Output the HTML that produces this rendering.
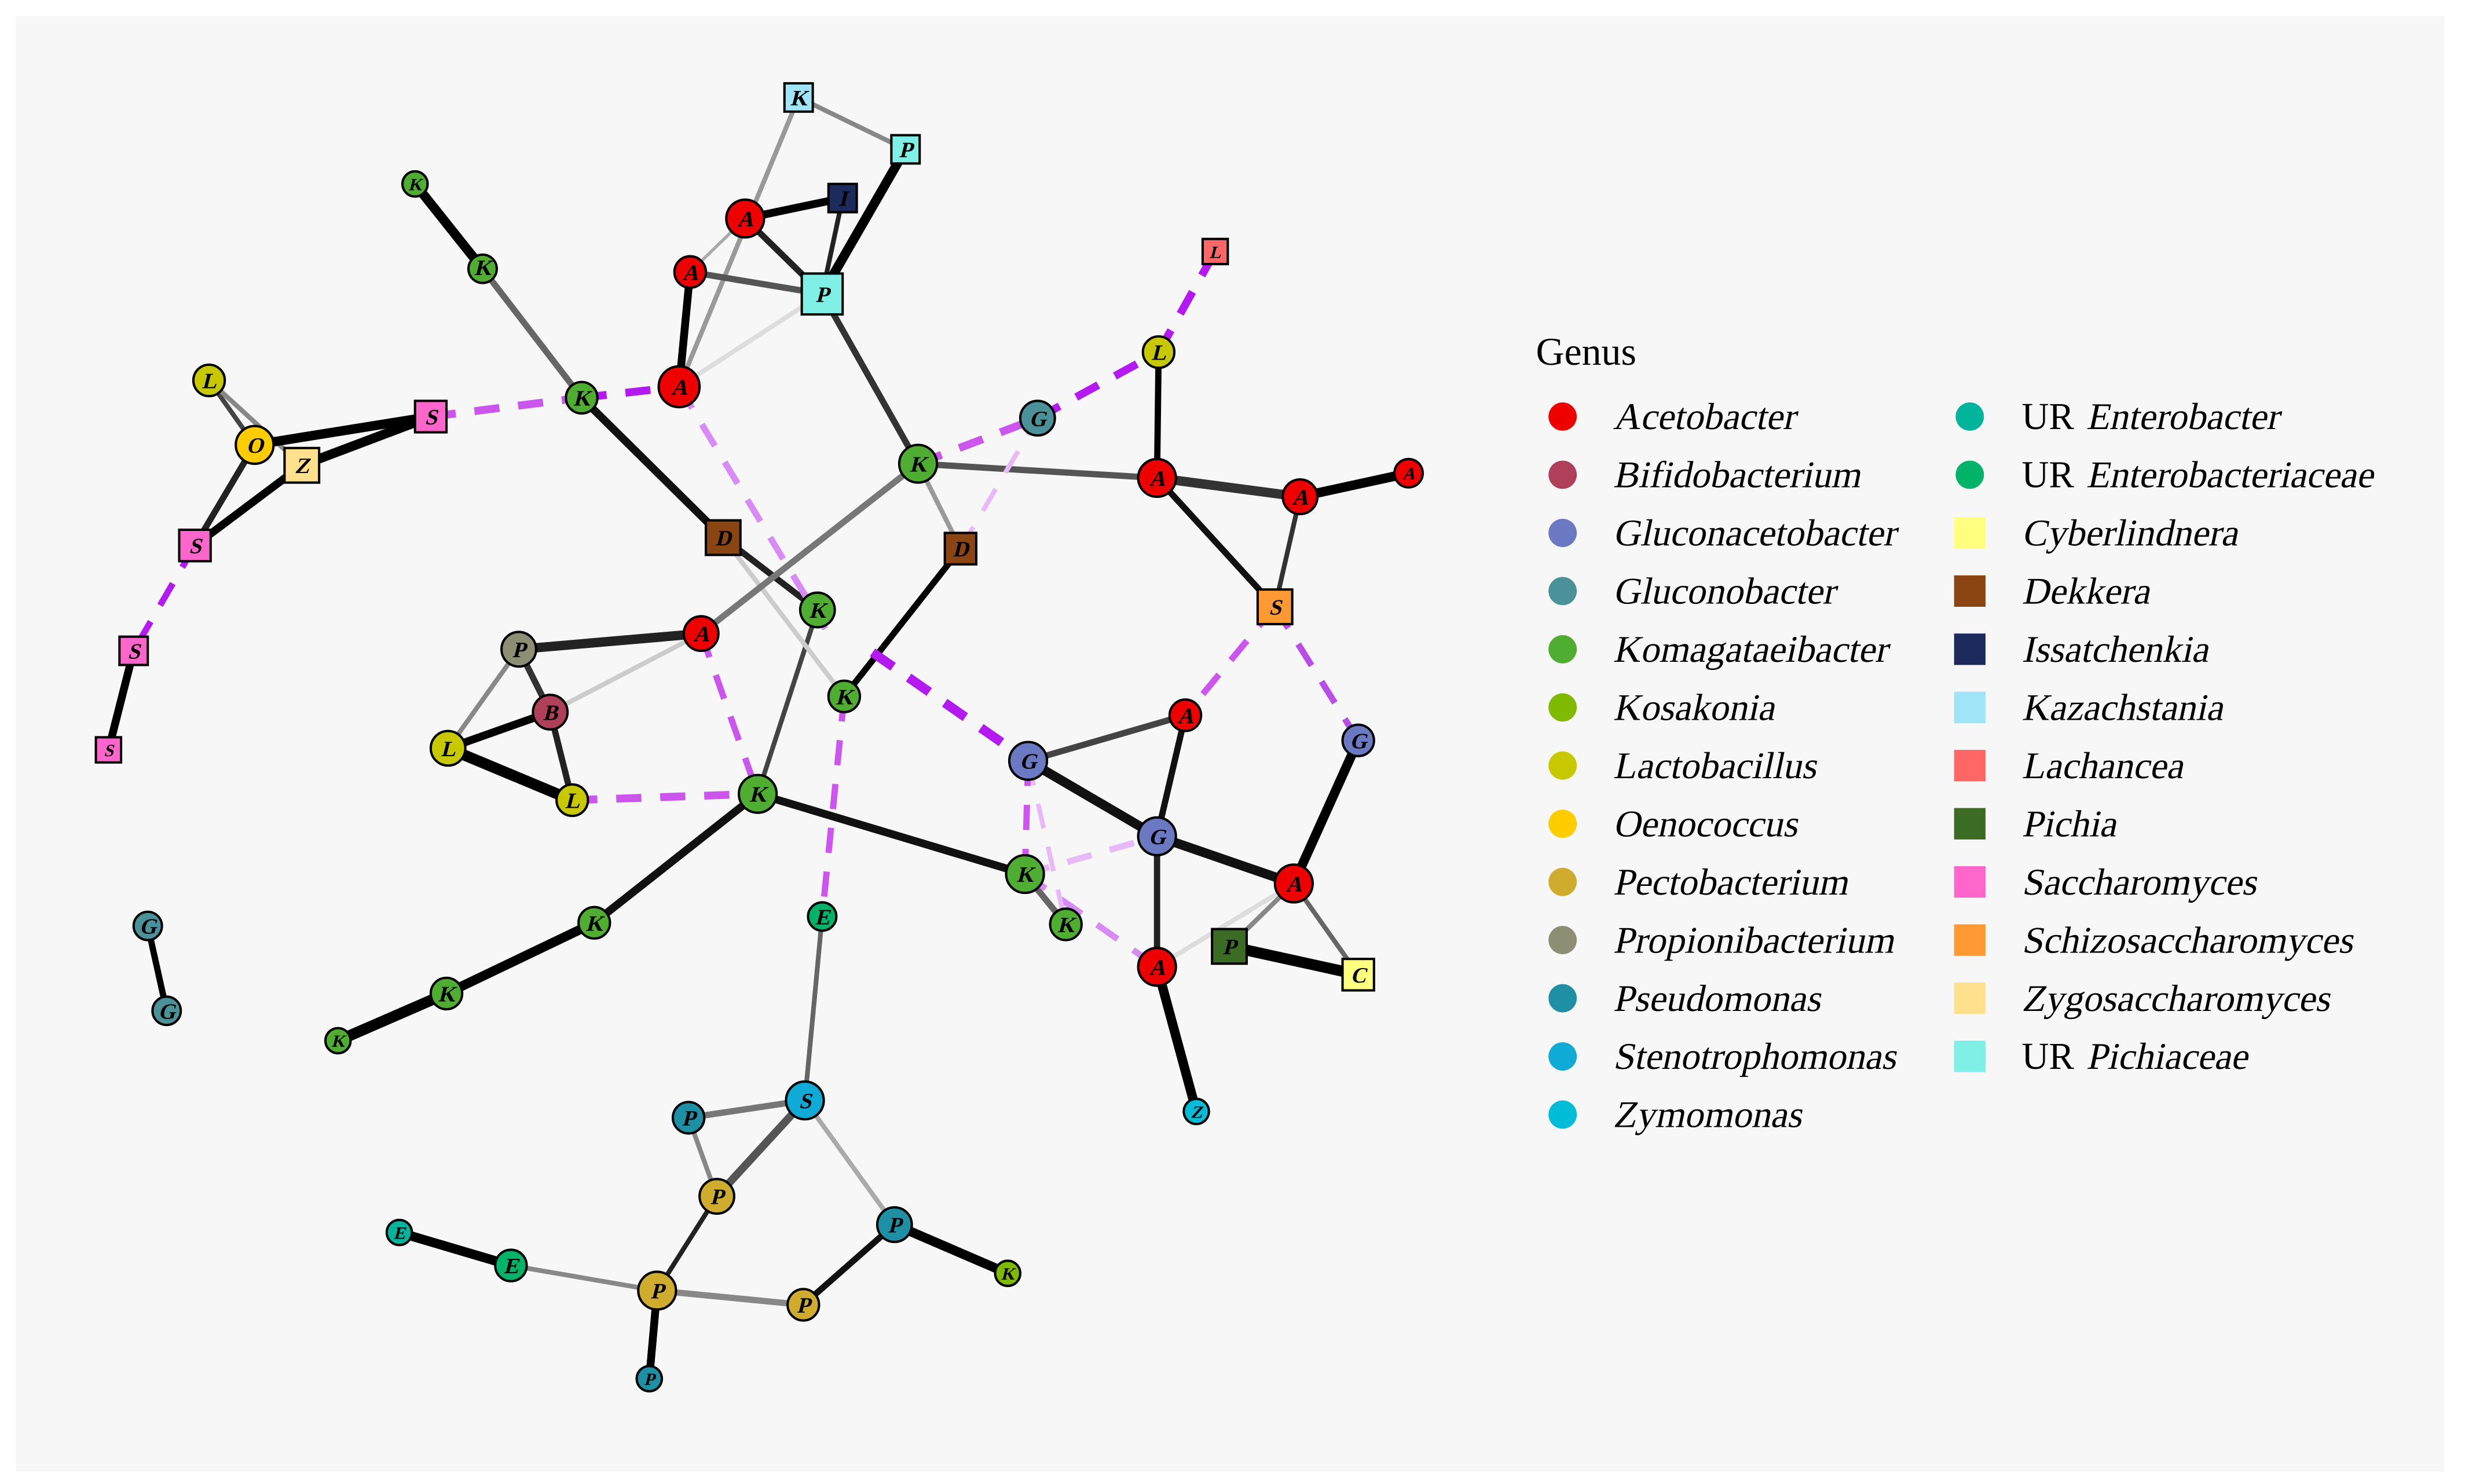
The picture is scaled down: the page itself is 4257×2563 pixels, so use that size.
<!DOCTYPE html>
<html><head><meta charset="utf-8"><style>
html,body{margin:0;padding:0;background:#fff;}
svg{display:block;}
</style></head><body>
<svg width="4257" height="2563" viewBox="0 0 1568 944" preserveAspectRatio="none" xmlns="http://www.w3.org/2000/svg">
<rect x="0" y="0" width="1568" height="944" fill="#fff"/>
<rect x="10" y="10" width="1545" height="926" fill="#f7f7f7"/>
<g stroke-linecap="butt" fill="none">
<line x1="264" y1="117" x2="307" y2="171" stroke="#000" stroke-width="6"/>
<line x1="307" y1="171" x2="370" y2="253" stroke="#666" stroke-width="4"/>
<line x1="370" y1="253" x2="460" y2="342" stroke="#111" stroke-width="5"/>
<line x1="460" y1="342" x2="520" y2="388" stroke="#222" stroke-width="4"/>
<line x1="520" y1="388" x2="482" y2="505" stroke="#444" stroke-width="3"/>
<line x1="460" y1="342" x2="537" y2="443" stroke="#ccc" stroke-width="3"/>
<line x1="537" y1="443" x2="611" y2="349" stroke="#000" stroke-width="4"/>
<line x1="611" y1="349" x2="584" y2="295" stroke="#999" stroke-width="3"/>
<line x1="584" y1="295" x2="446" y2="403" stroke="#777" stroke-width="4"/>
<line x1="584" y1="295" x2="523" y2="187" stroke="#333" stroke-width="4"/>
<line x1="584" y1="295" x2="736" y2="304" stroke="#555" stroke-width="4"/>
<line x1="736" y1="304" x2="827" y2="316" stroke="#333" stroke-width="6"/>
<line x1="827" y1="316" x2="896" y2="301" stroke="#000" stroke-width="6"/>
<line x1="736" y1="304" x2="811" y2="386" stroke="#111" stroke-width="4"/>
<line x1="827" y1="316" x2="811" y2="386" stroke="#333" stroke-width="3"/>
<line x1="736" y1="304" x2="737" y2="224" stroke="#000" stroke-width="4"/>
<line x1="432" y1="246" x2="439" y2="173" stroke="#000" stroke-width="5"/>
<line x1="432" y1="246" x2="508" y2="62" stroke="#999" stroke-width="3"/>
<line x1="432" y1="246" x2="523" y2="187" stroke="#ddd" stroke-width="3"/>
<line x1="439" y1="173" x2="474" y2="139" stroke="#aaa" stroke-width="2"/>
<line x1="439" y1="173" x2="523" y2="187" stroke="#555" stroke-width="4"/>
<line x1="474" y1="139" x2="523" y2="187" stroke="#222" stroke-width="4"/>
<line x1="474" y1="139" x2="536" y2="126" stroke="#000" stroke-width="5"/>
<line x1="536" y1="126" x2="523" y2="187" stroke="#222" stroke-width="3"/>
<line x1="576" y1="95" x2="523" y2="187" stroke="#000" stroke-width="6"/>
<line x1="508" y1="62" x2="576" y2="95" stroke="#888" stroke-width="3"/>
<line x1="446" y1="403" x2="330" y2="413" stroke="#222" stroke-width="6"/>
<line x1="446" y1="403" x2="350" y2="453" stroke="#ccc" stroke-width="3"/>
<line x1="330" y1="413" x2="350" y2="453" stroke="#333" stroke-width="4"/>
<line x1="330" y1="413" x2="285" y2="476" stroke="#888" stroke-width="3"/>
<line x1="350" y1="453" x2="285" y2="476" stroke="#000" stroke-width="5"/>
<line x1="285" y1="476" x2="364" y2="509" stroke="#000" stroke-width="7"/>
<line x1="350" y1="453" x2="364" y2="509" stroke="#222" stroke-width="4"/>
<line x1="482" y1="505" x2="378" y2="587" stroke="#111" stroke-width="5"/>
<line x1="378" y1="587" x2="284" y2="632" stroke="#000" stroke-width="6"/>
<line x1="284" y1="632" x2="215" y2="662" stroke="#000" stroke-width="7"/>
<line x1="482" y1="505" x2="652" y2="556" stroke="#111" stroke-width="5"/>
<line x1="652" y1="556" x2="678" y2="588" stroke="#666" stroke-width="4"/>
<line x1="654" y1="484" x2="754" y2="455" stroke="#444" stroke-width="4"/>
<line x1="654" y1="484" x2="736" y2="532" stroke="#111" stroke-width="6"/>
<line x1="754" y1="455" x2="736" y2="532" stroke="#111" stroke-width="4"/>
<line x1="736" y1="532" x2="823" y2="562" stroke="#111" stroke-width="6"/>
<line x1="736" y1="532" x2="736" y2="615" stroke="#222" stroke-width="4"/>
<line x1="823" y1="562" x2="864" y2="471" stroke="#000" stroke-width="6"/>
<line x1="823" y1="562" x2="864" y2="620" stroke="#666" stroke-width="3"/>
<line x1="823" y1="562" x2="782" y2="602" stroke="#888" stroke-width="3"/>
<line x1="736" y1="615" x2="823" y2="562" stroke="#ddd" stroke-width="3"/>
<line x1="782" y1="602" x2="864" y2="620" stroke="#000" stroke-width="7"/>
<line x1="736" y1="615" x2="761" y2="707" stroke="#000" stroke-width="6"/>
<line x1="523" y1="583" x2="512" y2="700" stroke="#666" stroke-width="3"/>
<line x1="512" y1="700" x2="438" y2="711" stroke="#777" stroke-width="4"/>
<line x1="512" y1="700" x2="456" y2="761" stroke="#555" stroke-width="5"/>
<line x1="512" y1="700" x2="569" y2="779" stroke="#aaa" stroke-width="3"/>
<line x1="438" y1="711" x2="456" y2="761" stroke="#888" stroke-width="3"/>
<line x1="456" y1="761" x2="418" y2="821" stroke="#222" stroke-width="3"/>
<line x1="418" y1="821" x2="511" y2="830" stroke="#888" stroke-width="4"/>
<line x1="511" y1="830" x2="569" y2="779" stroke="#111" stroke-width="4"/>
<line x1="569" y1="779" x2="641" y2="810" stroke="#000" stroke-width="6"/>
<line x1="254" y1="784" x2="325" y2="805" stroke="#000" stroke-width="6"/>
<line x1="325" y1="805" x2="418" y2="821" stroke="#888" stroke-width="3"/>
<line x1="418" y1="821" x2="413" y2="877" stroke="#000" stroke-width="5"/>
<line x1="94" y1="589" x2="106" y2="643" stroke="#000" stroke-width="4"/>
<line x1="133" y1="242" x2="162" y2="283" stroke="#444" stroke-width="3"/>
<line x1="133" y1="242" x2="192" y2="296" stroke="#888" stroke-width="3"/>
<line x1="162" y1="283" x2="274" y2="265" stroke="#000" stroke-width="6"/>
<line x1="192" y1="296" x2="274" y2="265" stroke="#000" stroke-width="6"/>
<line x1="162" y1="283" x2="124" y2="347" stroke="#222" stroke-width="4"/>
<line x1="192" y1="296" x2="124" y2="347" stroke="#000" stroke-width="5"/>
<line x1="85" y1="414" x2="69" y2="477" stroke="#000" stroke-width="5"/>
<g stroke-dasharray="16,12">
<line x1="274" y1="265" x2="370" y2="253" stroke="#cc55ee" stroke-width="5"/>
<line x1="370" y1="253" x2="432" y2="246" stroke="#b319f0" stroke-width="5"/>
<line x1="432" y1="246" x2="525" y2="400" stroke="#d88af5" stroke-width="4"/>
<line x1="446" y1="403" x2="482" y2="505" stroke="#cc55ee" stroke-width="4"/>
<line x1="364" y1="509" x2="482" y2="505" stroke="#cc55ee" stroke-width="5"/>
<line x1="537" y1="443" x2="523" y2="583" stroke="#cc55ee" stroke-width="4"/>
<line x1="555" y1="415" x2="654" y2="484" stroke="#b319f0" stroke-width="6"/>
<line x1="584" y1="295" x2="660" y2="266" stroke="#cc55ee" stroke-width="5"/>
<line x1="660" y1="266" x2="737" y2="224" stroke="#b319f0" stroke-width="5"/>
<line x1="737" y1="224" x2="773" y2="160" stroke="#b319f0" stroke-width="5"/>
<line x1="611" y1="349" x2="660" y2="266" stroke="#e8b8f8" stroke-width="3"/>
<line x1="811" y1="386" x2="754" y2="455" stroke="#cc55ee" stroke-width="4"/>
<line x1="811" y1="386" x2="864" y2="471" stroke="#b84de8" stroke-width="4"/>
<line x1="124" y1="347" x2="85" y2="414" stroke="#b319f0" stroke-width="4"/>
<line x1="654" y1="484" x2="652" y2="556" stroke="#cc55ee" stroke-width="4"/>
<line x1="652" y1="556" x2="736" y2="532" stroke="#e8b8f8" stroke-width="4"/>
<line x1="652" y1="556" x2="736" y2="615" stroke="#d88af5" stroke-width="4"/>
<line x1="654" y1="484" x2="678" y2="588" stroke="#e8b8f8" stroke-width="3"/>
</g>
</g>
<g stroke="#000" stroke-width="1.5">
<circle cx="264" cy="117" r="8" fill="#4fae32"/>
<circle cx="307" cy="171" r="9" fill="#4fae32"/>
<circle cx="370" cy="253" r="10" fill="#4fae32"/>
<circle cx="432" cy="246" r="13" fill="#ee0000"/>
<circle cx="439" cy="173" r="10" fill="#ee0000"/>
<circle cx="474" cy="139" r="12" fill="#ee0000"/>
<rect x="527" y="117" width="18" height="18" fill="#1c2a5c"/>
<rect x="499" y="53" width="18" height="18" fill="#a0e4f8"/>
<rect x="567" y="86" width="18" height="18" fill="#80efe6"/>
<rect x="510" y="174" width="26" height="26" fill="#80efe6"/>
<rect x="765" y="152" width="16" height="16" fill="#ff6666"/>
<circle cx="737" cy="224" r="10" fill="#c8c800"/>
<circle cx="660" cy="266" r="11" fill="#4a9199"/>
<circle cx="584" cy="295" r="12" fill="#4fae32"/>
<circle cx="736" cy="304" r="12" fill="#ee0000"/>
<circle cx="827" cy="316" r="11" fill="#ee0000"/>
<circle cx="896" cy="301" r="9" fill="#ee0000"/>
<rect x="800" y="375" width="22" height="22" fill="#ff9933"/>
<rect x="449" y="331" width="22" height="22" fill="#8b4513"/>
<rect x="601" y="339" width="20" height="20" fill="#8b4513"/>
<circle cx="520" cy="388" r="11" fill="#4fae32"/>
<circle cx="537" cy="443" r="10" fill="#4fae32"/>
<circle cx="446" cy="403" r="11" fill="#ee0000"/>
<circle cx="330" cy="413" r="11" fill="#8c8f73"/>
<circle cx="350" cy="453" r="11" fill="#b0405a"/>
<circle cx="285" cy="476" r="11" fill="#c8c800"/>
<circle cx="364" cy="509" r="10" fill="#c8c800"/>
<circle cx="482" cy="505" r="12" fill="#4fae32"/>
<circle cx="654" cy="484" r="12" fill="#6b78c2"/>
<circle cx="754" cy="455" r="10" fill="#ee0000"/>
<circle cx="864" cy="471" r="10" fill="#6b78c2"/>
<circle cx="736" cy="532" r="12" fill="#6b78c2"/>
<circle cx="823" cy="562" r="12" fill="#ee0000"/>
<circle cx="652" cy="556" r="12" fill="#4fae32"/>
<circle cx="678" cy="588" r="10" fill="#4fae32"/>
<circle cx="736" cy="615" r="12" fill="#ee0000"/>
<rect x="771" y="591" width="22" height="22" fill="#3c6b23"/>
<rect x="854" y="610" width="20" height="20" fill="#ffff80"/>
<circle cx="761" cy="707" r="8" fill="#00bcd8"/>
<circle cx="523" cy="583" r="9" fill="#00b368"/>
<circle cx="512" cy="700" r="12" fill="#0faad5"/>
<circle cx="438" cy="711" r="10" fill="#1f8fa5"/>
<circle cx="456" cy="761" r="11" fill="#cfac2e"/>
<circle cx="569" cy="779" r="11" fill="#1f8fa5"/>
<circle cx="641" cy="810" r="8" fill="#7fba00"/>
<circle cx="254" cy="784" r="8" fill="#00b39b"/>
<circle cx="325" cy="805" r="10" fill="#00b368"/>
<circle cx="418" cy="821" r="12" fill="#cfac2e"/>
<circle cx="511" cy="830" r="10" fill="#cfac2e"/>
<circle cx="413" cy="877" r="8" fill="#1f8fa5"/>
<circle cx="378" cy="587" r="10" fill="#4fae32"/>
<circle cx="284" cy="632" r="10" fill="#4fae32"/>
<circle cx="215" cy="662" r="8" fill="#4fae32"/>
<circle cx="94" cy="589" r="9" fill="#4a9199"/>
<circle cx="106" cy="643" r="9" fill="#4a9199"/>
<circle cx="133" cy="242" r="10" fill="#c8c800"/>
<circle cx="162" cy="283" r="12" fill="#ffcc00"/>
<rect x="181" y="285" width="22" height="22" fill="#ffe08c"/>
<rect x="264" y="255" width="20" height="20" fill="#ff66cc"/>
<rect x="114" y="337" width="20" height="20" fill="#ff66cc"/>
<rect x="76" y="405" width="18" height="18" fill="#ff66cc"/>
<rect x="61" y="469" width="16" height="16" fill="#ff66cc"/>
</g>
<g font-family="Liberation Serif, serif" font-weight="bold" font-size="14" text-anchor="middle" fill="#000">
<text transform="translate(264,121) skewX(-14)" font-size="11">K</text>
<text transform="translate(307,175) skewX(-14)">K</text>
<text transform="translate(370,258) skewX(-14)">K</text>
<text transform="translate(432,251) skewX(-14)">A</text>
<text transform="translate(439,178) skewX(-14)">A</text>
<text transform="translate(474,144) skewX(-14)">A</text>
<text transform="translate(536,131) skewX(-14)">I</text>
<text transform="translate(508,67) skewX(-14)">K</text>
<text transform="translate(576,100) skewX(-14)">P</text>
<text transform="translate(523,192) skewX(-14)">P</text>
<text transform="translate(773,164) skewX(-14)" font-size="11">L</text>
<text transform="translate(737,229) skewX(-14)">L</text>
<text transform="translate(660,271) skewX(-14)">G</text>
<text transform="translate(584,300) skewX(-14)">K</text>
<text transform="translate(736,309) skewX(-14)">A</text>
<text transform="translate(827,321) skewX(-14)">A</text>
<text transform="translate(896,305) skewX(-14)" font-size="11">A</text>
<text transform="translate(811,391) skewX(-14)">S</text>
<text transform="translate(460,347) skewX(-14)">D</text>
<text transform="translate(611,354) skewX(-14)">D</text>
<text transform="translate(520,393) skewX(-14)">K</text>
<text transform="translate(537,448) skewX(-14)">K</text>
<text transform="translate(446,408) skewX(-14)">A</text>
<text transform="translate(330,418) skewX(-14)">P</text>
<text transform="translate(350,458) skewX(-14)">B</text>
<text transform="translate(285,481) skewX(-14)">L</text>
<text transform="translate(364,514) skewX(-14)">L</text>
<text transform="translate(482,510) skewX(-14)">K</text>
<text transform="translate(654,489) skewX(-14)">G</text>
<text transform="translate(754,460) skewX(-14)">A</text>
<text transform="translate(864,476) skewX(-14)">G</text>
<text transform="translate(736,537) skewX(-14)">G</text>
<text transform="translate(823,567) skewX(-14)">A</text>
<text transform="translate(652,561) skewX(-14)">K</text>
<text transform="translate(678,593) skewX(-14)">K</text>
<text transform="translate(736,620) skewX(-14)">A</text>
<text transform="translate(782,607) skewX(-14)">P</text>
<text transform="translate(864,625) skewX(-14)">C</text>
<text transform="translate(761,711) skewX(-14)" font-size="11">Z</text>
<text transform="translate(523,588) skewX(-14)">E</text>
<text transform="translate(512,705) skewX(-14)">S</text>
<text transform="translate(438,716) skewX(-14)">P</text>
<text transform="translate(456,766) skewX(-14)">P</text>
<text transform="translate(569,784) skewX(-14)">P</text>
<text transform="translate(641,814) skewX(-14)" font-size="11">K</text>
<text transform="translate(254,788) skewX(-14)" font-size="11">E</text>
<text transform="translate(325,810) skewX(-14)">E</text>
<text transform="translate(418,826) skewX(-14)">P</text>
<text transform="translate(511,835) skewX(-14)">P</text>
<text transform="translate(413,881) skewX(-14)" font-size="11">P</text>
<text transform="translate(378,592) skewX(-14)">K</text>
<text transform="translate(284,637) skewX(-14)">K</text>
<text transform="translate(215,666) skewX(-14)" font-size="11">K</text>
<text transform="translate(94,594) skewX(-14)">G</text>
<text transform="translate(106,648) skewX(-14)">G</text>
<text transform="translate(133,247) skewX(-14)">L</text>
<text transform="translate(162,288) skewX(-14)">O</text>
<text transform="translate(192,301) skewX(-14)">Z</text>
<text transform="translate(274,270) skewX(-14)">S</text>
<text transform="translate(124,352) skewX(-14)">S</text>
<text transform="translate(85,419) skewX(-14)">S</text>
<text transform="translate(69,481) skewX(-14)" font-size="11">S</text>
</g>
<text x="977" y="232" font-family="Liberation Serif, serif" font-size="25" fill="#000">Genus</text>
<g>
<circle cx="994" cy="265" r="9" fill="#ee0000"/>
<circle cx="994" cy="302" r="9" fill="#b0405a"/>
<circle cx="994" cy="339" r="9" fill="#6b78c2"/>
<circle cx="994" cy="376" r="9" fill="#4a9199"/>
<circle cx="994" cy="413" r="9" fill="#4fae32"/>
<circle cx="994" cy="450" r="9" fill="#7fba00"/>
<circle cx="994" cy="487" r="9" fill="#c8c800"/>
<circle cx="994" cy="524" r="9" fill="#ffcc00"/>
<circle cx="994" cy="561" r="9" fill="#cfac2e"/>
<circle cx="994" cy="598" r="9" fill="#8c8f73"/>
<circle cx="994" cy="635" r="9" fill="#1f8fa5"/>
<circle cx="994" cy="672" r="9" fill="#0faad5"/>
<circle cx="994" cy="709" r="9" fill="#00bcd8"/>
<circle cx="1253" cy="265" r="9" fill="#00b39b"/>
<circle cx="1253" cy="302" r="9" fill="#00b368"/>
<rect x="1243" y="329" width="20" height="20" fill="#ffff80"/>
<rect x="1243" y="366" width="20" height="20" fill="#8b4513"/>
<rect x="1243" y="403" width="20" height="20" fill="#1c2a5c"/>
<rect x="1243" y="440" width="20" height="20" fill="#a0e4f8"/>
<rect x="1243" y="477" width="20" height="20" fill="#ff6666"/>
<rect x="1243" y="514" width="20" height="20" fill="#3c6b23"/>
<rect x="1243" y="551" width="20" height="20" fill="#ff66cc"/>
<rect x="1243" y="588" width="20" height="20" fill="#ff9933"/>
<rect x="1243" y="625" width="20" height="20" fill="#ffe08c"/>
<rect x="1243" y="662" width="20" height="20" fill="#80efe6"/>
</g>
<g font-family="Liberation Serif, serif" font-size="24" fill="#000">
<text transform="translate(1026,273) skewX(-12)">Acetobacter</text>
<text transform="translate(1026,310) skewX(-12)">Bifidobacterium</text>
<text transform="translate(1026,347) skewX(-12)">Gluconacetobacter</text>
<text transform="translate(1026,384) skewX(-12)">Gluconobacter</text>
<text transform="translate(1026,421) skewX(-12)">Komagataeibacter</text>
<text transform="translate(1026,458) skewX(-12)">Kosakonia</text>
<text transform="translate(1026,495) skewX(-12)">Lactobacillus</text>
<text transform="translate(1026,532) skewX(-12)">Oenococcus</text>
<text transform="translate(1026,569) skewX(-12)">Pectobacterium</text>
<text transform="translate(1026,606) skewX(-12)">Propionibacterium</text>
<text transform="translate(1026,643) skewX(-12)">Pseudomonas</text>
<text transform="translate(1026,680) skewX(-12)">Stenotrophomonas</text>
<text transform="translate(1026,717) skewX(-12)">Zymomonas</text>
<text x="1286" y="273">UR</text><text transform="translate(1327,273) skewX(-12)">Enterobacter</text>
<text x="1286" y="310">UR</text><text transform="translate(1327,310) skewX(-12)">Enterobacteriaceae</text>
<text transform="translate(1286,347) skewX(-12)">Cyberlindnera</text>
<text transform="translate(1286,384) skewX(-12)">Dekkera</text>
<text transform="translate(1286,421) skewX(-12)">Issatchenkia</text>
<text transform="translate(1286,458) skewX(-12)">Kazachstania</text>
<text transform="translate(1286,495) skewX(-12)">Lachancea</text>
<text transform="translate(1286,532) skewX(-12)">Pichia</text>
<text transform="translate(1286,569) skewX(-12)">Saccharomyces</text>
<text transform="translate(1286,606) skewX(-12)">Schizosaccharomyces</text>
<text transform="translate(1286,643) skewX(-12)">Zygosaccharomyces</text>
<text x="1286" y="680">UR</text><text transform="translate(1327,680) skewX(-12)">Pichiaceae</text>
</g>
</svg>
</body></html>
